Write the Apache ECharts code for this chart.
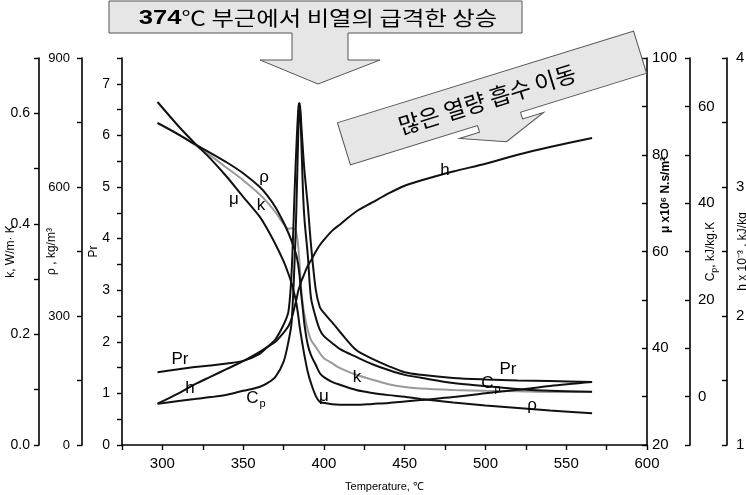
<!DOCTYPE html>
<html>
<head>
<meta charset="utf-8">
<script src="https://cdn.jsdelivr.net/npm/echarts@6/dist/echarts.min.js"></script>
<style>
html, body { margin: 0; padding: 0; background: #fff; }
#chart { width: 746px; height: 495px; }
</style>
</head>
<body>
<div id="chart"></div>
<script>
// temperature (deg C), shared by every curve
var temps = [297, 310, 320, 330, 340, 350, 360, 365, 370, 375, 378, 380, 382, 383, 384, 384.5, 385, 386, 387, 388,
	390, 392, 395, 397.5, 400, 405, 410, 420, 430, 440, 450, 460, 480, 500, 520, 540, 566]

var prValues = [1.41, 1.47, 1.51, 1.54, 1.58, 1.63, 1.76, 1.90, 2.05, 2.33, 2.58, 3.35, 5.04, 5.81, 6.45, 6.61, 6.63, 6.20, 5.72, 5.29,
	4.65, 3.88, 3.00, 2.67, 2.56, 2.38, 2.19, 1.84, 1.67, 1.53, 1.41, 1.36, 1.30, 1.27, 1.25, 1.24, 1.22]
var rhoValues = [749, 722, 700, 679, 657, 632, 601, 580, 553, 518, 493, 474, 453, 440, 421, 407, 391, 349, 314, 279,
	233, 209, 186, 167, 158, 147, 140, 128, 121, 116, 112, 107, 99, 92, 86, 80, 74]
var kValues = [0.582, 0.562, 0.543, 0.523, 0.501, 0.479, 0.454, 0.439, 0.421, 0.400, 0.391, 0.392, 0.391, 0.382, 0.362, 0.344, 0.326, 0.280, 0.253, 0.235,
	0.208, 0.190, 0.177, 0.166, 0.157, 0.148, 0.139, 0.127, 0.118, 0.110, 0.105, 0.102, 0.0995, 0.098, 0.097, 0.096, 0.096]
var muValues = [90.9, 85.9, 82.4, 79.1, 75.4, 71.3, 67.3, 64.6, 61.5, 58.0, 55.4, 53.4, 50.8, 49.2, 47.0, 45.7, 44.4, 42.3, 40.3, 38.4,
	35.1, 32.8, 30.1, 28.9, 28.7, 28.4, 28.3, 28.3, 28.5, 28.7, 29.0, 29.3, 29.9, 30.7, 31.4, 32.2, 33.0]
var cpValues = [-1.5, -0.9, -0.5, -0.1, 0.4, 1.2, 2.0, 2.8, 4.1, 7.2, 11.3, 15.4, 29.3, 39.6, 53.0, 58.2, 60.3, 53.0, 42.7, 36.5,
	29.3, 20.4, 16.3, 13.8, 12.5, 11.1, 9.8, 8.2, 6.7, 5.5, 4.5, 3.9, 2.8, 2.2, 1.6, 1.2, 1.0]
var hValues = [1.32, 1.40, 1.47, 1.53, 1.59, 1.65, 1.72, 1.76, 1.80, 1.87, 1.92, 1.98, 2.08, 2.13, 2.19, 2.21, 2.23, 2.27, 2.30, 2.33,
	2.39, 2.43, 2.50, 2.55, 2.59, 2.66, 2.71, 2.81, 2.88, 2.95, 3.01, 3.05, 3.12, 3.18, 3.25, 3.31, 3.38]

// tick labels
var xLabels = [300, 350, 400, 450, 500, 550, 600]
var prLabels = [0, 1, 2, 3, 4, 5, 6, 7]
var rhoLabels = [0, 300, 600, 900]
var kLabels = [0, 0.2, 0.4, 0.6]
var muLabels = [20, 40, 60, 80, 100]
var cpLabels = [0, 20, 40, 60]
var hLabels = [1, 2, 3, 4]

var LATIN = 'Liberation Sans'
var KOREAN = 'Noto Sans CJK KR'

function pairs(values) {
	return temps.map(function (t, i) { return [t, values[i]] })
}

function only(list, digits) {
	return function (v) {
		for (var i = 0; i < list.length; i++) {
			if (Math.abs(list[i] - v) < 1e-6) {
				return digits ? v.toFixed(digits) : String(list[i])
			}
		}
		return ''
	}
}

function yAxisOf(opt) {
	var right = opt.position === 'right'
	return {
		type: 'value',
		position: opt.position,
		offset: opt.offset,
		min: opt.min,
		max: opt.max,
		interval: opt.interval,
		name: opt.name || '',
		nameLocation: 'middle',
		nameRotate: 90,
		nameGap: opt.nameGap,
		nameMoveOverlap: false,
		nameTextStyle: { color: '#000', fontFamily: LATIN, fontSize: 12, rich: { s: { fontSize: 9, fontFamily: LATIN, padding: [8, 0, 0, 0] } } },
		axisLine: { show: true, onZero: false, lineStyle: { color: '#000', width: 1.6 } },
		axisTick: { show: true, inside: right, length: 5, lineStyle: { color: '#000', width: 1.4 } },
		axisLabel: {
			color: '#000', fontFamily: LATIN, fontSize: opt.fontSize || 14, margin: opt.margin,
			formatter: only(opt.labels, opt.digits)
		},
		splitLine: { show: false }
	}
}

function curve(name, values, axis, color) {
	return {
		name: name,
		type: 'line',
		yAxisIndex: axis,
		data: pairs(values),
		showSymbol: false,
		smooth: 0.3,
		lineStyle: { color: color || '#111', width: 2 },
		z: color ? 2 : 3
	}
}

// curve names written on the plot
var curveLabels = [
	{ t: 'ρ', x: 264, y: 177 }, { t: 'k', x: 261, y: 205 }, { t: 'μ', x: 234, y: 199 },
	{ t: 'Pr', x: 180, y: 359 }, { t: 'h', x: 190, y: 388 }, { t: 'C{s|p}', x: 256, y: 398 },
	{ t: 'μ', x: 324, y: 396 }, { t: 'k', x: 357, y: 377 }, { t: 'C{s|p}', x: 491, y: 383 },
	{ t: 'Pr', x: 508, y: 369 }, { t: 'ρ', x: 532, y: 405 }, { t: 'h', x: 445, y: 170 }
]

var BOX_FILL = '#e6e6e6'
var BOX_LINE = '#555'

var graphics = curveLabels.map(function (l) {
	return {
		type: 'text', x: l.x, y: l.y, z: 20,
		style: {
			text: l.t, fill: '#000', fontFamily: LATIN, fontSize: 17,
			align: 'center', verticalAlign: 'middle',
			rich: { s: { fontSize: 11, fontFamily: LATIN, padding: [12, 0, 0, 1] } }
		}
	}
})

graphics.push(
	// top note box
	{ type: 'rect', z: 30, shape: { x: 109, y: 1, width: 413, height: 32 }, style: { fill: BOX_FILL, stroke: BOX_LINE, lineWidth: 1 } },
	{ type: 'polygon', z: 31, shape: { points: [[292, 32], [348, 32], [348, 60], [380, 60], [318, 84], [260, 60], [292, 60]] }, style: { fill: BOX_FILL } },
	{ type: 'polyline', z: 32, shape: { points: [[292, 33], [292, 60], [260, 60], [318, 84], [380, 60], [348, 60], [348, 33]] }, style: { stroke: BOX_LINE, lineWidth: 1, fill: null } },
	{
		type: 'text', z: 33, x: 318, y: 18, scaleX: 1.22,
		style: {
			text: '{b|374}℃ 부근에서 비열의 급격한 상승', fill: '#000', fontFamily: KOREAN, fontSize: 20,
			align: 'center', verticalAlign: 'middle',
			rich: { b: { fontFamily: LATIN, fontWeight: 'bold', fontSize: 21 } }
		}
	},
	// slanted note box
	{
		type: 'group', x: 492, y: 98, rotation: 0.30, z: 30,
		children: [
			{ type: 'rect', z: 30, shape: { x: -155, y: -22, width: 310, height: 44 }, style: { fill: BOX_FILL, stroke: BOX_LINE, lineWidth: 1 } },
			{ type: 'polygon', z: 31, shape: { points: [[-22, 21], [23, 21], [23, 29], [45, 29], [1, 46], [-43, 29], [-22, 29]] }, style: { fill: BOX_FILL } },
			{ type: 'polyline', z: 32, shape: { points: [[-22, 22], [-22, 29], [-43, 29], [1, 46], [45, 29], [23, 29], [23, 22]] }, style: { stroke: BOX_LINE, lineWidth: 1, fill: null } },
			{
				type: 'text', z: 33, x: -5, y: 0,
				style: { text: '많은 열량 흡수 이동', fill: '#000', fontFamily: KOREAN, fontSize: 23, align: 'center', verticalAlign: 'middle' }
			}
		]
	},
	// viscosity axis title sits above the middle of its axis
	{
		type: 'text', x: 666, y: 195, rotation: Math.PI / 2, z: 20,
		style: {
			text: 'μ x10⁶ N.s/m²', fill: '#000', fontFamily: LATIN, fontSize: 12, fontWeight: 'bold',
			align: 'center', verticalAlign: 'middle'
		}
	}
)

var chart = echarts.init(document.getElementById('chart'))
chart.setOption({
	animation: false,
	backgroundColor: '#fff',
	grid: { left: 122, right: 99, top: 58, bottom: 50, containLabel: false, outerBoundsMode: 'none' },
	xAxis: {
		type: 'value',
		min: 275,
		max: 600,
		interval: 25,
		name: 'Temperature, ℃',
		nameLocation: 'middle',
		nameGap: 36,
		nameMoveOverlap: false,
		nameTextStyle: { color: '#000', fontFamily: LATIN, fontSize: 11 },
		axisLine: { onZero: false, lineStyle: { color: '#000', width: 1.6 } },
		axisTick: { length: 5, lineStyle: { color: '#000', width: 1.4 } },
		axisLabel: { color: '#000', fontFamily: LATIN, fontSize: 15, margin: 11, formatter: only(xLabels) },
		splitLine: { show: false }
	},
	yAxis: [
		yAxisOf({ position: 'left', offset: 0, min: 0, max: 7.5, interval: 0.5, labels: prLabels, name: 'Pr', nameGap: 22, margin: 12 }),
		yAxisOf({ position: 'left', offset: 40, min: 0, max: 900, interval: 150, labels: rhoLabels, name: 'ρ , kg/m³', nameGap: 24, margin: 12, fontSize: 13 }),
		yAxisOf({ position: 'left', offset: 83, min: 0, max: 0.7, interval: 0.1, labels: kLabels, digits: 1, name: 'k, W/m· K', nameGap: 22, margin: 9 }),
		yAxisOf({ position: 'right', offset: 0, min: 20, max: 100, interval: 10, labels: muLabels, margin: 5, fontSize: 15 }),
		yAxisOf({ position: 'right', offset: 43, min: -10, max: 70, interval: 10, labels: cpLabels, name: 'C{s|p}, kJ/kg.K', nameGap: 12, margin: 8, fontSize: 15 }),
		yAxisOf({ position: 'right', offset: 80, min: 1, max: 4, interval: 0.5, labels: hLabels, name: 'h x 10⁻³ , kJ/kg', nameGap: 10, margin: 9, fontSize: 15 })
	],
	series: [
		curve('k', kValues, 2, '#9a9a9a'),
		curve('Pr', prValues, 0),
		curve('ρ', rhoValues, 1),
		curve('μ', muValues, 3),
		curve('Cp', cpValues, 4),
		curve('h', hValues, 5)
	],
	graphic: graphics
})
</script>
</body>
</html>
